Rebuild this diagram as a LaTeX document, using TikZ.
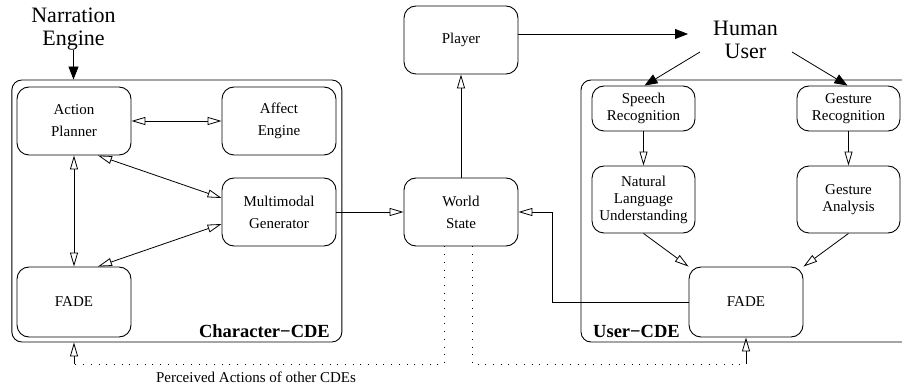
\documentclass[tikz,border=0pt]{standalone}
\usepackage{fontspec}
\setmainfont{Liberation Serif}
\usetikzlibrary{arrows.meta,calc}
\begin{document}
\begin{tikzpicture}[x=1pt,y=-1pt,
  box/.style={draw, line width=0.9pt, rounded corners=12pt, minimum width=114pt, minimum height=68pt, align=center, inner sep=0pt, font=\fontsize{15}{22}\selectfont},
  sbox/.style={box, minimum width=103pt, font=\fontsize{15}{17}\selectfont},
  outer/.style={draw, line width=0.9pt, rounded corners=10pt, inner sep=0pt},
  conn/.style={line width=0.8pt},
  oa/.style={conn, -{Triangle[open,length=14pt,width=8pt]}},
  boa/.style={conn, {Triangle[open,length=14pt,width=8pt]}-{Triangle[open,length=14pt,width=8pt]}},
  fa/.style={conn, -{Triangle[length=13pt,width=10pt]}},
  dots/.style={line width=1pt, dash pattern=on 1pt off 6.7pt},
  big/.style={align=center, inner sep=0pt, font=\fontsize{22}{23}\selectfont},
  lbl/.style={inner sep=0pt, font=\fontsize{18.5}{20}\selectfont\bfseries}
]
\useasboundingbox (0,0) rectangle (902,387);
\clip (0,0) rectangle (902,387);

% outer boxes
\node[outer, minimum width=330pt, minimum height=262pt] (ccde) at (176.85,211) {};
\node[outer, minimum width=331pt, minimum height=262pt] (ucde) at (746.5,211) {};

% left boxes
\node[box] (AP) at (74,121) {Action\\Planner};
\node[box] (AE) at (279,121) {Affect\\Engine};
\node[box] (MG) at (279,212) {Multimodal\\Generator};
\node[box, minimum height=70pt] (FL) at (74,302) {FADE};
\node[box] (PL) at (461,40) {Player};
\node[box] (WS) at (461,212) {World\\State};

% right boxes
\node[sbox, minimum height=45pt] (SR) at (643.5,108.5) {Speech\\Recognition};
\node[sbox, minimum height=45pt] (GR) at (848.5,108.5) {Gesture\\Recognition};
\node[sbox, minimum height=67pt] (NLU) at (643.5,199.5) {Natural\\Language\\Understanding};
\node[sbox, minimum height=67pt] (GA) at (848.5,199.5) {Gesture\\Analysis};
\node[box, minimum height=70pt] (FR) at (746,302) {FADE};

% texts
\node[big] (NE) at (73.5,29) {Narration\\Engine};
\node[big] (HU) at (745.5,40) {Human\\User};
\node[lbl, anchor=base east] (cl) at (330,337) {Character−CDE};
\node[lbl, anchor=base west] (ul) at (593,337) {User−CDE};
\node[inner sep=0pt, font=\fontsize{15}{17}\selectfont] (pa) at (256,377) {Perceived Actions of other CDEs};

% connectors
\draw[fa] (NE.south) -- (NE.south |- ccde.north);
\draw[boa] (AP) -- (AE);
\draw[boa] ($(AP.south)+(24,0)$) -- ($(MG.west)+(0,-14)$);
\draw[boa] ($(MG.west)+(0,12)$) -- ($(FL.north)+(24,0)$);
\draw[boa] (AP.south) -- (FL.north);
\draw[oa] (MG.east) -- (WS.west);
\draw[oa] (WS.north) -- (PL.south);

\coordinate (hin) at (688,34);
\coordinate (hl) at (700,52);
\coordinate (hr) at (792,52);
\draw[fa] ($(PL.east)+(0,-6)$) -- (hin);
\draw[fa] (hl) -- ($(SR.north)+(1,0)$);
\draw[fa] (hr) -- ($(GR.north)+(-1,0)$);
\draw[oa] (SR.south) -- (NLU.north);
\draw[oa] (GR.south) -- (GA.north);
\draw[oa] (NLU.south) -- (FR.north west);
\draw[oa] (GA.south) -- (FR.north east);
\draw[oa] (FR.west) -| (552,212) -- (WS.east);

% dotted
\coordinate (d1) at ($(WS.south)+(-17,0)$);
\coordinate (d2) at ($(WS.south)+(11,0)$);
\coordinate (e1) at (FL.south |- 0,364);
\coordinate (e2) at (FR.south |- 0,364);
\draw[dots] (d1) -- (d1 |- e1) -- (e1);
\draw[oa] (e1) -- (FL.south |- ccde.south);
\draw[dots] (d2) -- (d2 |- e2) -- (e2);
\draw[oa] (e2) -- (FR.south);
\end{tikzpicture}
\end{document}
